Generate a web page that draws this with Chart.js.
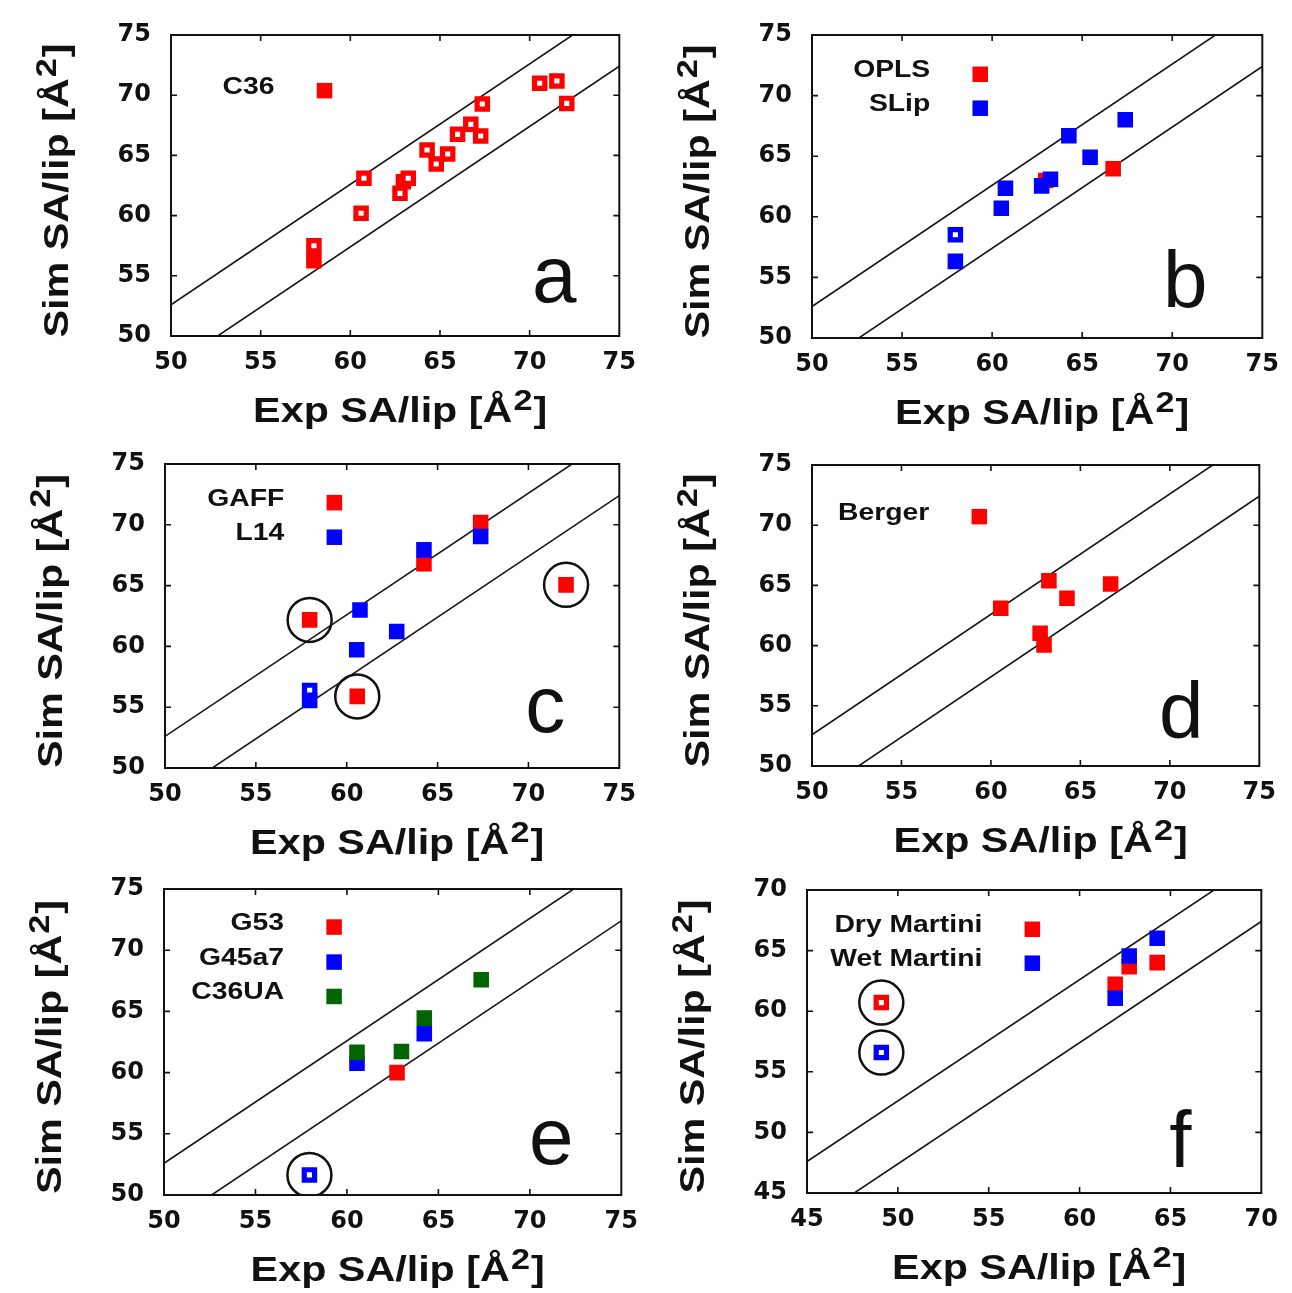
<!DOCTYPE html>
<html>
<head>
<meta charset="utf-8">
<script src="https://cdn.jsdelivr.net/npm/chart.js@4.4.1/dist/chart.umd.min.js"></script>
<style>
  body { margin: 0; background: #fff; width: 1292px; height: 1293px; position: relative; overflow: hidden; }
  canvas { position: absolute; }
</style>
</head>
<body>
<script>
// area per lipid, x = experiment, y = simulation (Å^2)

// a: CHARMM36
const c36Filled = [{x: 57.97, y: 56.26}];
const c36Open = [
  {x: 57.97, y: 57.5}, {x: 60.6, y: 60.2}, {x: 60.76, y: 63.1}, {x: 62.77, y: 61.85},
  {x: 62.96, y: 62.82}, {x: 63.23, y: 63.1}, {x: 64.28, y: 65.45}, {x: 64.79, y: 64.29},
  {x: 65.43, y: 65.12}, {x: 65.98, y: 66.75}, {x: 66.72, y: 67.58}, {x: 67.27, y: 66.61},
  {x: 67.36, y: 69.27}, {x: 70.56, y: 70.99}, {x: 71.52, y: 71.18}, {x: 72.07, y: 69.32}
];

// b: OPLS / Slipids
const oplsFilled = [{x: 62.98, y: 62.99}, {x: 66.72, y: 63.96}];
const slipFilled = [
  {x: 57.96, y: 56.32}, {x: 60.51, y: 60.71}, {x: 60.74, y: 62.36}, {x: 62.75, y: 62.55},
  {x: 63.24, y: 63.1}, {x: 64.26, y: 66.68}, {x: 65.44, y: 64.92}, {x: 67.39, y: 68.0}
];
const slipOpen = [{x: 57.96, y: 58.52}];

// c: GAFF / Lipid14
const gaffFilled = [
  {x: 67.37, y: 70.18}, {x: 64.25, y: 66.79}, {x: 72.07, y: 65.06}, {x: 57.96, y: 62.18}, {x: 60.58, y: 55.89}
];
const l14Filled = [
  {x: 67.37, y: 69.03}, {x: 64.25, y: 67.94}, {x: 60.73, y: 63.0}, {x: 62.75, y: 61.23},
  {x: 60.55, y: 59.72}, {x: 57.96, y: 55.56}
];
const l14Open = [{x: 57.96, y: 56.38}];
const gaffCircled = [{x: 72.07, y: 65.06}, {x: 57.96, y: 62.18}, {x: 60.58, y: 55.89}];

// d: Berger
const bergerFilled = [
  {x: 60.55, y: 63.1}, {x: 63.24, y: 65.39}, {x: 64.25, y: 63.93}, {x: 66.69, y: 65.12},
  {x: 62.75, y: 61.02}, {x: 62.97, y: 60.05}
];

// e: GROMOS variants
const g53Filled = [{x: 62.74, y: 60.0}];
const g45a7Filled = [{x: 64.23, y: 63.17}, {x: 60.55, y: 60.77}];
const g45a7Open = [{x: 57.95, y: 51.64}];
const c36uaFilled = [{x: 67.34, y: 67.58}, {x: 64.23, y: 64.45}, {x: 60.55, y: 61.67}, {x: 62.98, y: 61.72}];

// f: Martini
const dryFilled = [{x: 61.96, y: 62.23}, {x: 62.73, y: 63.68}, {x: 64.27, y: 64.01}];
const dryOpen = [{x: 49.09, y: 60.71}];
const wetFilled = [{x: 61.96, y: 61.07}, {x: 62.73, y: 64.56}, {x: 64.27, y: 66.02}];
const wetOpen = [{x: 49.09, y: 56.59}];

// axis ranges and tick steps
const rangeAtom = [50, 75];
const rangeCG = [45, 70];
const majorStep = 5;
const minorStep = 2.5;
// half width of the agreement band around y = x
const bandHalf = 2.6;

const RED = '#ff0000';
const BLUE = '#0000ff';
const GREEN = '#006400';
const INK = '#111111';

const TICK_FONT = {family: 'DejaVu Sans', size: 24, weight: 'bold'};
// labels are drawn a little wider than the font's own proportions
const STRETCH = 1.18;

function filled(data, color) {
  return {data, pointStyle: 'rect', pointRadius: 11, backgroundColor: color, borderWidth: 0};
}
function open(data, color) {
  return {data, pointStyle: 'rect', pointRadius: 7.3, backgroundColor: '#fff', borderColor: color, borderWidth: 5.2};
}
function rings(data) {
  return {data, pointStyle: 'circle', pointRadius: 22, backgroundColor: 'rgba(0,0,0,0)', borderColor: INK, borderWidth: 2.5};
}
function band(range, off) {
  return {
    type: 'line', showLine: true, pointRadius: 0, borderColor: INK, borderWidth: 1.6, tension: 0,
    data: [{x: range[0] - 10, y: range[0] - 10 + off}, {x: range[1] + 10, y: range[1] + 10 + off}]
  };
}

// widened text; align is 'left', 'center' or 'right' around x
function wideText(ctx, str, x, y, align) {
  const w = ctx.measureText(str).width * STRETCH;
  const x0 = align === 'right' ? x - w : align === 'center' ? x - w / 2 : x;
  ctx.save();
  ctx.textAlign = 'left';
  ctx.translate(x0, y);
  ctx.scale(STRETCH, 1);
  ctx.fillText(str, 0, 0);
  ctx.restore();
  return w;
}

// axis title with a raised "2" before the closing bracket
function drawUnitTitle(ctx, head, x, y) {
  const big = 'bold 35px "Liberation Sans"';
  const small = 'bold 29px "Liberation Sans"';
  ctx.textBaseline = 'alphabetic';
  ctx.font = big;
  const w1 = ctx.measureText(head).width * STRETCH;
  const w3 = ctx.measureText(']').width * STRETCH;
  ctx.font = small;
  const w2 = ctx.measureText('2').width * STRETCH + 2;
  let cx = x - (w1 + w2 + w3) / 2;
  ctx.font = big;
  wideText(ctx, head, cx, y, 'left');
  cx += w1 + 1;
  ctx.font = small;
  wideText(ctx, '2', cx, y - 12, 'left');
  cx += w2 - 1;
  ctx.font = big;
  wideText(ctx, ']', cx, y, 'left');
}

const panelDecor = {
  id: 'panelDecor',
  beforeDatasetsDraw(chart) {
    const {ctx, chartArea: a, scales: {x, y}} = chart;
    ctx.save();
    ctx.strokeStyle = INK;
    ctx.lineWidth = 1.6;
    ctx.beginPath();
    x.ticks.forEach(t => {
      const px = x.getPixelForValue(t.value);
      if (px < a.left + 2 || px > a.right - 2) return;
      ctx.moveTo(px, a.bottom); ctx.lineTo(px, a.bottom - 6);
      ctx.moveTo(px, a.top); ctx.lineTo(px, a.top + 6);
    });
    y.ticks.forEach(t => {
      const py = y.getPixelForValue(t.value);
      if (py < a.top + 2 || py > a.bottom - 2) return;
      const len = t.value % majorStep === 0 ? 6 : 4;
      ctx.moveTo(a.left, py); ctx.lineTo(a.left + len, py);
      ctx.moveTo(a.right, py); ctx.lineTo(a.right - len, py);
    });
    ctx.stroke();
    ctx.lineWidth = 2;
    ctx.strokeRect(a.left, a.top, a.width, a.height);
    ctx.restore();
  },
  afterDraw(chart, args, opts) {
    const {ctx, chartArea: a, scales: {x, y}} = chart;
    ctx.save();
    ctx.fillStyle = INK;

    // key: label right-aligned, coloured square to its right
    (opts.key || []).forEach(k => {
      const px = x.getPixelForValue(k.x);
      const py = y.getPixelForValue(k.y);
      ctx.fillStyle = k.color;
      ctx.fillRect(px - 7.75, py - 7.75, 15.5, 15.5);
      ctx.fillStyle = INK;
      ctx.font = 'bold 24px "Liberation Sans"';
      ctx.textBaseline = 'alphabetic';
      wideText(ctx, k.text, px - 50, py + 3, 'right');
    });

    // panel letter
    ctx.font = '80px "Liberation Sans"';
    ctx.textAlign = 'center';
    ctx.textBaseline = 'alphabetic';
    ctx.fillText(opts.letter, a.right - opts.letterDx, a.bottom - opts.letterDy);

    // axis titles
    drawUnitTitle(ctx, 'Exp SA/lip [Å', (a.left + a.right) / 2 + 5, a.bottom + 86);
    ctx.translate(a.left - 103, (a.top + a.bottom) / 2 + 5);
    ctx.rotate(-Math.PI / 2);
    drawUnitTitle(ctx, 'Sim SA/lip [Å', 0, 0);
    ctx.restore();
  }
};

const panels = [
  {letter: 'a', area: [171, 35, 626, 336], range: rangeAtom, letterDx: 65, letterDy: 34,
   sets: [filled(c36Filled, RED), open(c36Open, RED)],
   key: [{text: 'C36', x: 58.56, y: 70.38, color: RED}]},
  {letter: 'b', area: [812, 35, 1269, 338], range: rangeAtom, letterDx: 77, letterDy: 31,
   sets: [filled(slipFilled, BLUE), open(slipOpen, BLUE), filled(oplsFilled, RED)],
   key: [{text: 'OPLS', x: 59.34, y: 71.76, color: RED}, {text: 'SLip', x: 59.34, y: 68.96, color: BLUE}]},
  {letter: 'c', area: [165, 464, 626, 768], range: rangeAtom, letterDx: 74, letterDy: 36,
   sets: [rings(gaffCircled), filled(l14Filled, BLUE), open(l14Open, BLUE), filled(gaffFilled, RED)],
   key: [{text: 'GAFF', x: 59.32, y: 71.82, color: RED}, {text: 'L14', x: 59.32, y: 68.98, color: BLUE}]},
  {letter: 'd', area: [812, 465, 1266, 766], range: rangeAtom, letterDx: 78, letterDy: 28,
   sets: [filled(bergerFilled, RED)],
   key: [{text: 'Berger', x: 59.35, y: 70.71, color: RED}]},
  {letter: 'e', area: [164, 889, 628, 1195], range: rangeAtom, letterDx: 70, letterDy: 31,
   sets: [rings(g45a7Open), filled(c36uaFilled, GREEN), filled(g45a7Filled, BLUE), open(g45a7Open, BLUE), filled(g53Filled, RED)],
   key: [{text: 'G53', x: 59.3, y: 71.89, color: RED}, {text: 'G45a7', x: 59.3, y: 69.03, color: BLUE},
         {text: 'C36UA', x: 59.3, y: 66.22, color: GREEN}]},
  {letter: 'f', area: [807, 890, 1268, 1193], range: rangeCG, letterDx: 81, letterDy: 26,
   sets: [rings(dryOpen.concat(wetOpen)), filled(wetFilled, BLUE), open(wetOpen, BLUE), filled(dryFilled, RED), open(dryOpen, RED)],
   key: [{text: 'Dry Martini', x: 57.4, y: 66.76, color: RED}, {text: 'Wet Martini', x: 57.4, y: 63.96, color: BLUE}]}
];

panels.forEach(p => {
  const [l, t, r, b] = p.area;
  const left = l - 171, top = t - 35;
  const w = r - left + 22, h = b - top + 100;
  const canvas = document.createElement('canvas');
  canvas.width = w;
  canvas.height = h;
  canvas.style.left = left + 'px';
  canvas.style.top = top + 'px';
  document.body.appendChild(canvas);

  new Chart(canvas, {
    type: 'scatter',
    data: {datasets: p.sets.concat([band(p.range, bandHalf), band(p.range, -bandHalf)])},
    options: {
      responsive: false,
      animation: false,
      events: [],
      layout: {padding: {left: 0, top: 35, right: 22, bottom: 40}},
      plugins: {
        legend: {display: false},
        tooltip: {enabled: false},
        panelDecor: {letter: p.letter, letterDx: p.letterDx, letterDy: p.letterDy, key: p.key}
      },
      scales: {
        x: {
          type: 'linear', min: p.range[0], max: p.range[1],
          grid: {display: false, drawTicks: false}, border: {display: false},
          ticks: {stepSize: majorStep, font: TICK_FONT, color: INK, padding: 12, maxRotation: 0},
          afterFit(s) { s.height = 60; }
        },
        y: {
          type: 'linear', min: p.range[0], max: p.range[1],
          grid: {display: false, drawTicks: false}, border: {display: false},
          ticks: {
            stepSize: minorStep, font: TICK_FONT, color: INK, padding: 20,
            callback: v => (v % majorStep === 0 ? v : '')
          },
          afterFit(s) { s.width = 171; }
        }
      }
    },
    plugins: [panelDecor]
  });
});
</script>
</body>
</html>
